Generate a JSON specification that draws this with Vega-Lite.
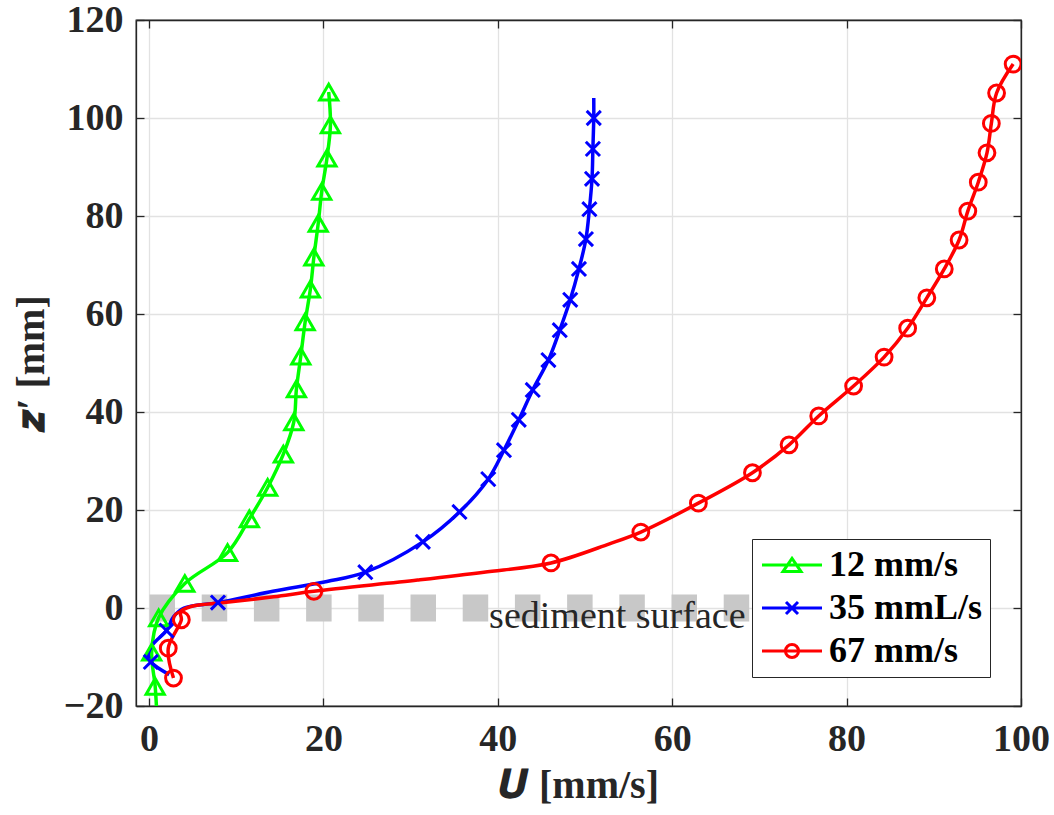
{
  "$schema": "https://vega.github.io/schema/vega-lite/v6.json",
  "width": 885,
  "height": 686,
  "autosize": {"type": "none"},
  "padding": {"left": 136, "top": 20, "right": 33, "bottom": 109},
  "background": "white",
  "config": {
    "view": {"stroke": "#262626", "strokeWidth": 1.3},
    "axis": {
      "labelFont": "Liberation Serif", "labelFontWeight": "bold", "labelFontSize": 38, "labelColor": "#262626", "labelFlush": false,
      "titleFont": "Liberation Serif", "titleFontWeight": "bold", "titleFontSize": 40, "titleColor": "#262626",
      "domainColor": "#262626", "domainWidth": 1.3, "tickColor": "#262626", "tickWidth": 1.3, "tickSize": -8,
      "gridColor": "#e2e2e2", "gridWidth": 1.3
    },
    "legend": {
      "labelFont": "Liberation Serif", "labelFontWeight": "bold", "labelFontSize": 36, "labelColor": "black"
    }
  },
  "datasets": {
    "profiles": [
      {"series": "12 mm/s", "u": 20.6, "z": 105.3, "measured": true},
      {"series": "12 mm/s", "u": 20.8, "z": 98.6, "measured": true},
      {"series": "12 mm/s", "u": 20.4, "z": 91.8, "measured": true},
      {"series": "12 mm/s", "u": 19.8, "z": 85.0, "measured": true},
      {"series": "12 mm/s", "u": 19.4, "z": 78.5, "measured": true},
      {"series": "12 mm/s", "u": 18.9, "z": 71.6, "measured": true},
      {"series": "12 mm/s", "u": 18.5, "z": 65.1, "measured": true},
      {"series": "12 mm/s", "u": 17.9, "z": 58.4, "measured": true},
      {"series": "12 mm/s", "u": 17.4, "z": 51.4, "measured": true},
      {"series": "12 mm/s", "u": 16.9, "z": 44.7, "measured": true},
      {"series": "12 mm/s", "u": 16.6, "z": 38.0, "measured": true},
      {"series": "12 mm/s", "u": 15.4, "z": 31.4, "measured": true},
      {"series": "12 mm/s", "u": 13.6, "z": 24.6, "measured": true},
      {"series": "12 mm/s", "u": 11.5, "z": 18.2, "measured": true},
      {"series": "12 mm/s", "u": 9.0, "z": 11.3, "measured": true},
      {"series": "12 mm/s", "u": 4.1, "z": 5.0, "measured": true},
      {"series": "12 mm/s", "u": 1.1, "z": -2.0, "measured": true},
      {"series": "12 mm/s", "u": 0.3, "z": -9.0, "measured": true},
      {"series": "12 mm/s", "u": 0.7, "z": -16.0, "measured": true},
      {"series": "12 mm/s", "u": 0.9, "z": -22.0, "measured": false},

      {"series": "35 mmL/s", "u": 51.0, "z": 104.1, "measured": false},
      {"series": "35 mmL/s", "u": 51.0, "z": 100.0, "measured": true},
      {"series": "35 mmL/s", "u": 50.9, "z": 93.7, "measured": true},
      {"series": "35 mmL/s", "u": 50.8, "z": 87.6, "measured": true},
      {"series": "35 mmL/s", "u": 50.5, "z": 81.4, "measured": true},
      {"series": "35 mmL/s", "u": 50.1, "z": 75.3, "measured": true},
      {"series": "35 mmL/s", "u": 49.3, "z": 69.2, "measured": true},
      {"series": "35 mmL/s", "u": 48.3, "z": 62.9, "measured": true},
      {"series": "35 mmL/s", "u": 47.1, "z": 56.7, "measured": true},
      {"series": "35 mmL/s", "u": 45.8, "z": 50.6, "measured": true},
      {"series": "35 mmL/s", "u": 44.0, "z": 44.5, "measured": true},
      {"series": "35 mmL/s", "u": 42.4, "z": 38.4, "measured": true},
      {"series": "35 mmL/s", "u": 40.7, "z": 32.2, "measured": true},
      {"series": "35 mmL/s", "u": 38.9, "z": 26.3, "measured": true},
      {"series": "35 mmL/s", "u": 35.6, "z": 19.6, "measured": true},
      {"series": "35 mmL/s", "u": 31.4, "z": 13.5, "measured": true},
      {"series": "35 mmL/s", "u": 24.8, "z": 7.3, "measured": true},
      {"series": "35 mmL/s", "u": 20.4, "z": 5.4, "measured": false},
      {"series": "35 mmL/s", "u": 14.2, "z": 3.4, "measured": false},
      {"series": "35 mmL/s", "u": 7.9, "z": 1.1, "measured": true},
      {"series": "35 mmL/s", "u": 4.0, "z": 0.0, "measured": false},
      {"series": "35 mmL/s", "u": 2.8, "z": -1.8, "measured": false},
      {"series": "35 mmL/s", "u": 2.0, "z": -4.6, "measured": true},
      {"series": "35 mmL/s", "u": 0.4, "z": -7.5, "measured": false},
      {"series": "35 mmL/s", "u": -0.1, "z": -9.5, "measured": false},
      {"series": "35 mmL/s", "u": 0.2, "z": -11.0, "measured": true},
      {"series": "35 mmL/s", "u": 2.3, "z": -13.6, "measured": false},

      {"series": "67 mm/s", "u": 99.1, "z": 111.0, "measured": true},
      {"series": "67 mm/s", "u": 97.2, "z": 105.1, "measured": true},
      {"series": "67 mm/s", "u": 96.6, "z": 98.9, "measured": true},
      {"series": "67 mm/s", "u": 96.1, "z": 92.9, "measured": true},
      {"series": "67 mm/s", "u": 95.1, "z": 86.9, "measured": true},
      {"series": "67 mm/s", "u": 93.9, "z": 81.0, "measured": true},
      {"series": "67 mm/s", "u": 92.9, "z": 75.1, "measured": true},
      {"series": "67 mm/s", "u": 91.2, "z": 69.2, "measured": true},
      {"series": "67 mm/s", "u": 89.2, "z": 63.3, "measured": true},
      {"series": "67 mm/s", "u": 87.0, "z": 57.1, "measured": true},
      {"series": "67 mm/s", "u": 84.3, "z": 51.2, "measured": true},
      {"series": "67 mm/s", "u": 80.8, "z": 45.3, "measured": true},
      {"series": "67 mm/s", "u": 76.8, "z": 39.2, "measured": true},
      {"series": "67 mm/s", "u": 73.4, "z": 33.3, "measured": true},
      {"series": "67 mm/s", "u": 69.2, "z": 27.6, "measured": true},
      {"series": "67 mm/s", "u": 63.0, "z": 21.4, "measured": true},
      {"series": "67 mm/s", "u": 56.4, "z": 15.5, "measured": true},
      {"series": "67 mm/s", "u": 52.8, "z": 13.1, "measured": false},
      {"series": "67 mm/s", "u": 46.1, "z": 9.2, "measured": true},
      {"series": "67 mm/s", "u": 38.4, "z": 7.3, "measured": false},
      {"series": "67 mm/s", "u": 30.8, "z": 5.7, "measured": false},
      {"series": "67 mm/s", "u": 18.9, "z": 3.4, "measured": true},
      {"series": "67 mm/s", "u": 14.3, "z": 2.3, "measured": false},
      {"series": "67 mm/s", "u": 8.6, "z": 1.1, "measured": false},
      {"series": "67 mm/s", "u": 4.8, "z": 0.3, "measured": false},
      {"series": "67 mm/s", "u": 3.6, "z": -0.8, "measured": false},
      {"series": "67 mm/s", "u": 3.7, "z": -2.4, "measured": true},
      {"series": "67 mm/s", "u": 2.2, "z": -8.2, "measured": true},
      {"series": "67 mm/s", "u": 2.8, "z": -14.3, "measured": true}
    ],
    "surface": [{"u": 0.05, "u2": 69.1, "z": 0}],
    "note": [{"label": "sediment surface", "u": 53.7, "z": -4.1}],
    "nothing": []
  },
  "layer": [
    {
      "data": {"name": "surface"},
      "mark": {"type": "rule", "color": "#c8c8c8", "strokeWidth": 27, "strokeDash": [25.5, 26.7], "strokeCap": "butt"},
      "encoding": {
        "x": {"field": "u", "type": "quantitative", "scale": {"domain": [-1.5, 100], "nice": false, "zero": false},
              "axis": {"orient": "top", "labels": false, "grid": false, "title": null, "values": [0, 20, 40, 60, 80, 100]}},
        "x2": {"field": "u2"},
        "y": {"field": "z", "type": "quantitative", "scale": {"domain": [-20, 120], "nice": false, "zero": false},
              "axis": {"orient": "right", "labels": false, "grid": false, "title": null, "values": [-20, 0, 20, 40, 60, 80, 100, 120]}}
      }
    },
    {
      "data": {"name": "note"},
      "mark": {"type": "text", "font": "Liberation Serif", "fontSize": 38, "color": "#262626", "align": "center", "baseline": "alphabetic"},
      "encoding": {
        "x": {"field": "u", "type": "quantitative", "axis": null},
        "y": {"field": "z", "type": "quantitative", "axis": null},
        "text": {"field": "label"}
      }
    },
    {
      "data": {"name": "profiles"},
      "mark": {"type": "line", "strokeWidth": 3.5, "interpolate": "catmull-rom", "clip": true},
      "encoding": {
        "x": {"field": "u", "type": "quantitative",
              "axis": {"orient": "bottom", "title": "𝑼 [mm/s]", "values": [0, 20, 40, 60, 80, 100], "labelPadding": 22, "titlePadding": 7, "grid": true}},
        "y": {"field": "z", "type": "quantitative",
              "axis": {"orient": "left", "title": "𝒛′ [mm]", "values": [-20, 0, 20, 40, 60, 80, 100, 120], "labelPadding": 21, "titlePadding": 12, "grid": true}},
        "order": {"field": "z", "type": "quantitative"},
        "color": {"field": "series", "type": "nominal",
                  "scale": {"domain": ["12 mm/s", "35 mmL/s", "67 mm/s"], "range": ["#00ff00", "#0000ff", "#ff0000"]},
                  "legend": {"title": null, "orient": "none", "legendX": 616, "legendY": 519, "padding": 8,
                             "strokeColor": "#262626", "fillColor": "white", "symbolSize": 1024, "symbolStrokeWidth": 3,
                             "labelOffset": 33, "rowPadding": 7}}
      }
    },
    {
      "data": {"name": "profiles"},
      "transform": [{"filter": "datum.measured && datum.series === '12 mm/s'"}],
      "mark": {"type": "point", "shape": "triangle-up", "size": 330, "filled": false, "strokeWidth": 3, "opacity": 1, "color": "#00ff00", "clip": true},
      "encoding": {
        "x": {"field": "u", "type": "quantitative", "axis": null},
        "y": {"field": "z", "type": "quantitative", "axis": null}
      }
    },
    {
      "data": {"name": "profiles"},
      "transform": [{"filter": "datum.measured && datum.series === '35 mmL/s'"}],
      "mark": {"type": "point", "shape": "M-1,-1L1,1M-1,1L1,-1", "size": 200, "filled": false, "strokeWidth": 3, "opacity": 1, "color": "#0000ff", "clip": true},
      "encoding": {
        "x": {"field": "u", "type": "quantitative", "axis": null},
        "y": {"field": "z", "type": "quantitative", "axis": null}
      }
    },
    {
      "data": {"name": "profiles"},
      "transform": [{"filter": "datum.measured && datum.series === '67 mm/s'"}],
      "mark": {"type": "point", "shape": "circle", "size": 250, "filled": false, "strokeWidth": 3, "opacity": 1, "color": "#ff0000", "clip": true},
      "encoding": {
        "x": {"field": "u", "type": "quantitative", "axis": null},
        "y": {"field": "z", "type": "quantitative", "axis": null}
      }
    },
    {
      "data": {"name": "nothing"},
      "mark": {"type": "point", "filled": false, "strokeWidth": 3, "opacity": 1},
      "encoding": {
        "x": {"field": "u", "type": "quantitative", "axis": null},
        "y": {"field": "z", "type": "quantitative", "axis": null},
        "color": {"field": "series", "type": "nominal",
                  "scale": {"domain": ["12 mm/s", "35 mmL/s", "67 mm/s"], "range": ["#00ff00", "#0000ff", "#ff0000"]},
                  "legend": {"title": null, "orient": "none", "legendX": 616, "legendY": 519, "padding": 8,
                             "strokeColor": "#262626", "fillColor": "white", "symbolSize": 1024, "symbolStrokeWidth": 3,
                             "labelOffset": 33, "rowPadding": 7}},
        "shape": {"field": "series", "type": "nominal",
                  "scale": {"domain": ["12 mm/s", "35 mmL/s", "67 mm/s"],
                            "range": ["M-1,0H2.75M0.875,-0.41L1.4375,0.41L0.3125,0.41Z", "M-1,0H2.75M0.5,-0.375L1.25,0.375M0.5,0.375L1.25,-0.375", "M-1,0H2.75M1.285,0A0.41,0.41,0,1,1,0.465,0A0.41,0.41,0,1,1,1.285,0"]},
                  "legend": {"title": null, "orient": "none", "legendX": 616, "legendY": 519, "padding": 8,
                             "strokeColor": "#262626", "fillColor": "white", "symbolSize": 1024, "symbolStrokeWidth": 3,
                             "labelOffset": 33, "rowPadding": 7}}
      }
    }
  ],
  "resolve": {"axis": {"x": "independent", "y": "independent"}}
}
